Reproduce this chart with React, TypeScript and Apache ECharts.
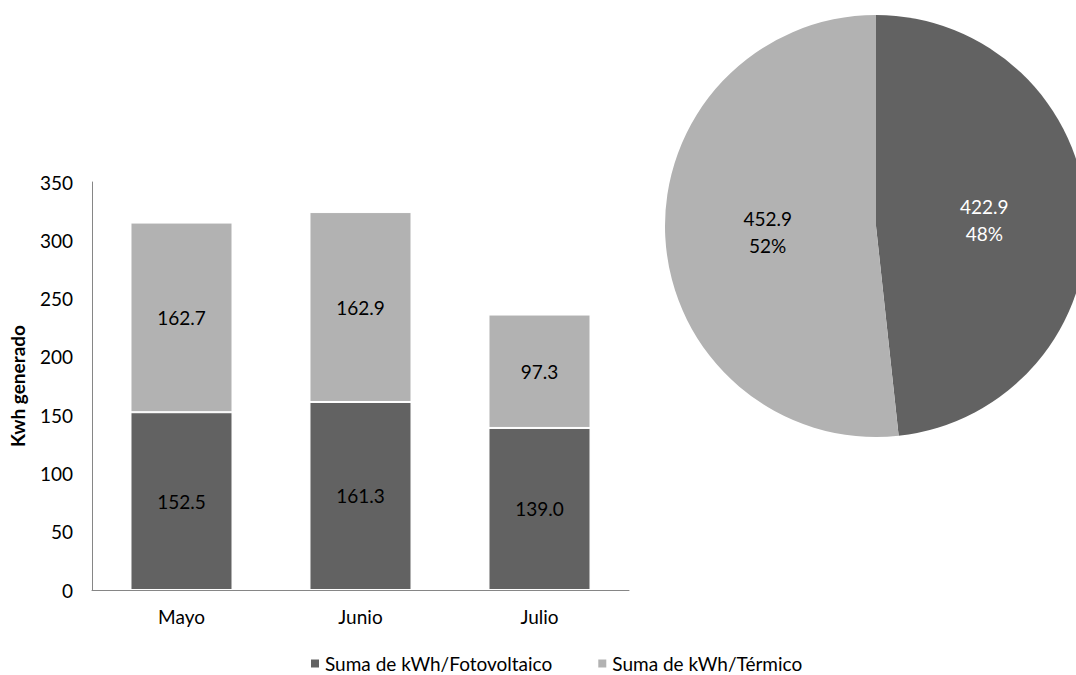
import React, { useEffect, useRef } from "react";
import * as echarts from "echarts";

// Monthly generation, stacked by source
const months = ["Mayo", "Junio", "Julio"];
const fotovoltaico = [152.5, 161.3, 139.0];
const termico = [162.7, 162.9, 97.3];
const seriesNames = ["Suma de kWh/Fotovoltaico", "Suma de kWh/Térmico"];

// Period totals shown in the pie
const pieValues = [422.9, 452.9];

const yTicks = { min: 0, max: 350, interval: 50 };

const DARK = "#626262";
const LIGHT = "#b2b2b2";
const AXIS = "#868686";
const FONT = "Lato, 'Open Sans', sans-serif";
const FS = 19;

export default function App() {
  const ref = useRef<HTMLDivElement>(null);

  useEffect(() => {
    if (!ref.current) return;
    const chart = echarts.init(ref.current, undefined, { renderer: "svg" });
    const total = pieValues.reduce((a, b) => a + b, 0);

    chart.setOption({
      animation: false,
      textStyle: { fontFamily: FONT },
      legend: {
        bottom: 0,
        left: 304,
        icon: "rect",
        itemWidth: 10,
        itemHeight: 10,
        itemGap: 44,
        padding: [2, 5, 2, 5],
        textStyle: { fontSize: FS, color: "#000", fontFamily: FONT },
        data: seriesNames,
      },
      grid: { left: 92, right: 447, top: 182, bottom: 85, containLabel: false },
      xAxis: {
        type: "category",
        data: months,
        axisLine: { lineStyle: { color: AXIS, width: 1 } },
        axisTick: { show: false },
        axisLabel: { color: "#000", fontSize: FS, margin: 17 },
      },
      yAxis: {
        type: "value",
        min: yTicks.min,
        max: yTicks.max,
        interval: yTicks.interval,
        name: "Kwh generado",
        nameLocation: "middle",
        nameGap: 65,
        nameTextStyle: { fontWeight: "bold", fontSize: 19, color: "#000" },
        axisLine: { show: true, lineStyle: { color: AXIS, width: 1 } },
        axisTick: { show: false },
        splitLine: { show: false },
        axisLabel: { color: "#000", fontSize: FS, margin: 19 },
      },
      series: [
        {
          name: seriesNames[0],
          type: "bar",
          stack: "kwh",
          barWidth: "57%",
          data: fotovoltaico,
          itemStyle: { color: DARK, borderColor: "#fff", borderWidth: 1 },
          label: {
            show: true,
            position: "inside",
            color: "#000",
            fontSize: FS,
            formatter: (p: any) => Number(p.value).toFixed(1),
          },
        },
        {
          name: seriesNames[1],
          type: "bar",
          stack: "kwh",
          barWidth: "57%",
          data: termico,
          itemStyle: { color: LIGHT, borderColor: "#fff", borderWidth: 1 },
          label: {
            show: true,
            position: "inside",
            color: "#000",
            fontSize: FS,
            formatter: (p: any) => Number(p.value).toFixed(1),
          },
        },
        {
          type: "pie",
          center: [876, 226],
          radius: 211,
          startAngle: 90,
          clockwise: true,
          silent: true,
          legendHoverLink: false,
          label: {
            show: true,
            position: "inner",
            fontSize: FS,
            lineHeight: 27,
            formatter: (p: any) =>
              `${Number(p.value).toFixed(1)}\n${Math.round((p.value / total) * 100)}%`,
          },
          labelLine: { show: false },
          itemStyle: { borderWidth: 0 },
          data: [
            { value: pieValues[0], itemStyle: { color: DARK }, label: { color: "#fff" } },
            { value: pieValues[1], itemStyle: { color: LIGHT }, label: { color: "#000" } },
          ],
        },
      ],
    });

    return () => chart.dispose();
  }, []);

  return (
    <div
      ref={ref}
      style={{ width: 1076, height: 675, position: "absolute", left: 0, top: 0, background: "#fff" }}
    />
  );
}
